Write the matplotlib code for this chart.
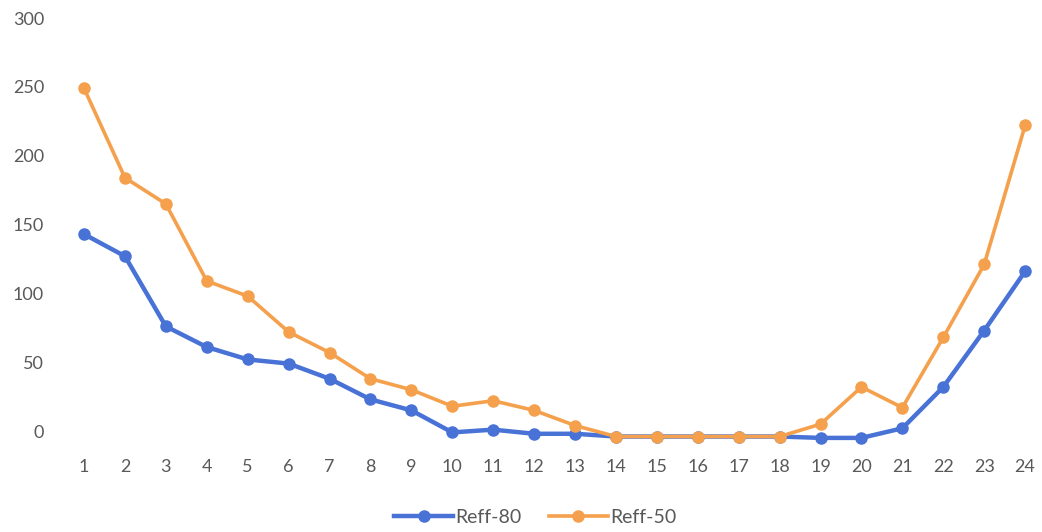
import matplotlib
matplotlib.use("Agg")
from matplotlib import pyplot as plt

hours = list(range(1, 25))
reff_80 = [143, 127, 76, 61, 52, 49, 38, 23, 15, -1, 1, -2, -2, -4, -4,
           -4, -4, -4, -5, -5, 2, 32, 73, 116]
reff_50 = [249, 184, 165, 109, 98, 72, 57, 38, 30, 18, 22, 15, 4, -4, -4,
           -4, -4, -4, 5, 32, 17, 68, 121, 222]
y_ticks = [0, 50, 100, 150, 200, 250, 300]

BLUE = "#4872D6"
ORANGE = "#F5A04C"
GREY = "#595959"

plt.rcParams["font.family"] = ["Lato", "DejaVu Sans"]

fig = plt.figure(figsize=(10.42, 5.32), dpi=100)
ax = fig.add_axes([0.061, 0.151, 0.9385, 0.815])

# later series sits on top, as in a spreadsheet chart
ax.plot(hours, reff_80, color=BLUE, lw=3.2, marker="o", ms=8,
        label="Reff-80", zorder=2)
ax.plot(hours, reff_50, color=ORANGE, lw=2.6, marker="o", ms=8,
        label="Reff-50", zorder=3)

ax.set_xlim(0.5, 24.4)
ax.set_ylim(-15, 300)
ax.set_xticks(hours)
ax.set_yticks(y_ticks)
ax.tick_params(length=0, labelsize=13, labelcolor=GREY)
ax.tick_params(axis="y", pad=14)
ax.tick_params(axis="x", pad=5)
for side in ax.spines.values():
    side.set_visible(False)

fig.legend(loc="center", bbox_to_anchor=(0.514, 0.028), ncol=2,
           frameon=False, fontsize=14, labelcolor=GREY,
           handlelength=3, columnspacing=1.4, handletextpad=0.15)

fig.savefig("out.png", dpi=100)
plt.close(fig)
